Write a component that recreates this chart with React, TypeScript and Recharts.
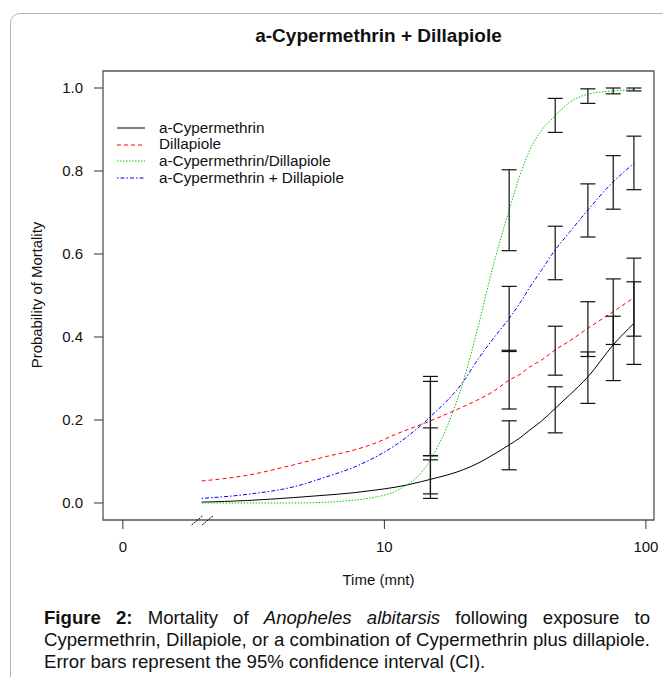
import {
  ComposedChart,
  ErrorBar,
  Line,
  ReferenceArea,
  ReferenceLine,
  Scatter,
  XAxis,
  YAxis,
} from 'recharts';

// fitted curves (time in minutes)
const times = [2, 3, 4.5, 6, 7.7, 9.2, 11, 15, 20, 23, 26, 30, 33, 36, 40, 45, 51, 60, 75, 90];
const cyper = [0.002, 0.006, 0.013, 0.019, 0.025, 0.031, 0.038, 0.057, 0.08, 0.097, 0.116, 0.14, 0.157, 0.176, 0.198, 0.228, 0.26, 0.304, 0.381, 0.433];
const dilla = [0.053, 0.067, 0.092, 0.112, 0.128, 0.144, 0.165, 0.198, 0.232, 0.25, 0.268, 0.296, 0.31, 0.328, 0.345, 0.369, 0.39, 0.421, 0.461, 0.495];
const ratio = [0, 0, 0, 0.002, 0.007, 0.014, 0.028, 0.104, 0.292, 0.433, 0.569, 0.706, 0.79, 0.851, 0.899, 0.933, 0.965, 0.985, 0.993, 0.996];
const combo = [0.011, 0.021, 0.039, 0.063, 0.087, 0.11, 0.139, 0.208, 0.292, 0.35, 0.395, 0.445, 0.482, 0.52, 0.562, 0.61, 0.652, 0.706, 0.774, 0.818];

// 95% CI per observation time
const ciTimes = [15, 30, 45, 60, 75, 90];
const cyperLo = [0.011, 0.08, 0.169, 0.24, 0.295, 0.334];
const cyperHi = [0.104, 0.198, 0.28, 0.364, 0.45, 0.533];
const dillaLo = [0.114, 0.2265, 0.308, 0.353, 0.382, 0.402];
const dillaHi = [0.293, 0.368, 0.426, 0.485, 0.54, 0.59];
const ratioLo = [0.022, 0.608, 0.893, 0.963, 0.986, 0.993];
const ratioHi = [0.181, 0.803, 0.975, 0.998, 1.0, 1.0];
const comboLo = [0.114, 0.365, 0.538, 0.641, 0.708, 0.755];
const comboHi = [0.305, 0.522, 0.667, 0.769, 0.837, 0.884];

const xTickLabels = ['0', '10', '100'];
const yTicks = [0, 0.2, 0.4, 0.6, 0.8, 1.0];

const series = [
  { key: 'cyper', name: 'a-Cypermethrin', color: '#000000', dash: undefined, values: cyper },
  { key: 'dilla', name: 'Dillapiole', color: '#ff0000', dash: '4 3', values: dilla },
  { key: 'ratio', name: 'a-Cypermethrin/Dillapiole', color: '#00cd00', dash: '1.5 1.5', values: ratio },
  { key: 'combo', name: 'a-Cypermethrin + Dillapiole', color: '#0000ff', dash: '1.5 2 4 2', values: combo },
];

const curveRows = times.map((t, i) => {
  const row: Record<string, number> = { u: Math.log10(t) };
  series.forEach((s) => (row[s.key] = s.values[i]));
  return row;
});

const ciPairs = [
  [cyperLo, cyperHi],
  [dillaLo, dillaHi],
  [ratioLo, ratioHi],
  [comboLo, comboHi],
];
const ciRows = ciPairs.flatMap(([lo, hi]) =>
  ciTimes.map((t, i) => {
    const mid = (lo[i] + hi[i]) / 2;
    return { u: Math.log10(t), mid, err: [mid - lo[i], hi[i] - mid] };
  }),
);

const X_DOMAIN: [number, number] = [-0.076, 2.031];
const Y_DOMAIN: [number, number] = [-0.041, 1.041];
const FONT = '"Liberation Sans", Arial, sans-serif';

function LegendBox() {
  return (
    <div
      style={{
        position: 'absolute',
        left: 117,
        top: 119.5,
        fontFamily: FONT,
        fontSize: 15.3,
        color: '#111',
        lineHeight: '16.7px',
      }}
    >
      {series.map((s) => (
        <div key={s.key} style={{ display: 'flex', alignItems: 'center', height: 16.7, whiteSpace: 'nowrap' }}>
          <svg width={28} height={6} style={{ marginRight: 14 }}>
            <line x1={0} y1={3} x2={28} y2={3} stroke={s.color} strokeWidth={1} strokeDasharray={s.dash} />
          </svg>
          <span>{s.name}</span>
        </div>
      ))}
    </div>
  );
}

export default function App() {
  return (
    <div style={{ position: 'absolute', left: 0, top: 0, width: 663, height: 677, overflow: 'hidden', background: '#fff' }}>
      <div
        style={{
          position: 'absolute',
          left: 10,
          top: 13,
          width: 700,
          height: 700,
          border: '1.5px solid #b4b4b4',
          borderRadius: 10,
        }}
      />
      <div
        style={{
          position: 'absolute',
          left: 103,
          width: 551,
          top: 25,
          textAlign: 'center',
          fontFamily: FONT,
          fontWeight: 'bold',
          fontSize: 19,
          color: '#111',
        }}
      >
        a-Cypermethrin + Dillapiole
      </div>
      <div
        style={{
          position: 'absolute',
          left: 37,
          top: 295,
          transform: 'translate(-50%, -50%) rotate(-90deg)',
          whiteSpace: 'nowrap',
          fontFamily: FONT,
          fontSize: 14.9,
          color: '#111',
        }}
      >
        Probability of Mortality
      </div>
      <div
        style={{
          position: 'absolute',
          left: 103,
          width: 551,
          top: 571,
          textAlign: 'center',
          fontFamily: FONT,
          fontSize: 15,
          color: '#111',
        }}
      >
        Time (mnt)
      </div>

      <div style={{ position: 'absolute', left: 0, top: 0 }}>
        <ComposedChart
          width={663}
          height={600}
          data={curveRows}
          margin={{ top: 71, right: 9, bottom: 0, left: 0 }}
        >
          <XAxis
            type="number"
            dataKey="u"
            domain={X_DOMAIN}
            allowDataOverflow
            ticks={[0, 1, 2]}
            tickFormatter={(v: number) => xTickLabels[Math.round(v)]}
            axisLine={false}
            tickLine={{ stroke: '#333' }}
            tickSize={9}
            tickMargin={12}
            height={80}
            tick={{ fill: '#111', fontSize: 15, fontFamily: FONT }}
          />
          <YAxis
            type="number"
            domain={Y_DOMAIN}
            allowDataOverflow
            ticks={yTicks}
            tickFormatter={(v: number) => v.toFixed(1)}
            axisLine={false}
            tickLine={{ stroke: '#333' }}
            tickSize={9}
            tickMargin={11}
            width={103}
            tick={{ fill: '#111', fontSize: 15, fontFamily: FONT }}
          />
          <ReferenceArea
            x1={X_DOMAIN[0]}
            x2={X_DOMAIN[1]}
            y1={Y_DOMAIN[0]}
            y2={Y_DOMAIN[1]}
            fill="none"
            stroke="#555"
            strokeWidth={1.3}
            ifOverflow="visible"
          />
          <ReferenceLine
            segment={[{ x: 0.263, y: -0.053 }, { x: 0.305, y: -0.031 }]}
            stroke="#000"
            strokeDasharray="2 1"
            ifOverflow="visible"
          />
          <ReferenceLine
            segment={[{ x: 0.303, y: -0.053 }, { x: 0.345, y: -0.031 }]}
            stroke="#000"
            strokeDasharray="2 1"
            ifOverflow="visible"
          />
          {series.map((s) => (
            <Line
              key={s.key}
              type="monotone"
              dataKey={s.key}
              name={s.name}
              stroke={s.color}
              strokeWidth={1}
              strokeDasharray={s.dash}
              dot={false}
              activeDot={false}
              isAnimationActive={false}
            />
          ))}
          <Scatter data={ciRows} dataKey="mid" shape={() => <g />} isAnimationActive={false} legendType="none">
            <ErrorBar dataKey="err" direction="y" width={7.5} stroke="#111" strokeWidth={1.2} isAnimationActive={false} />
          </Scatter>
        </ComposedChart>
      </div>
      <LegendBox />

      <div
        style={{
          position: 'absolute',
          left: 44,
          top: 606.5,
          width: 606,
          fontFamily: FONT,
          fontSize: 18.6,
          lineHeight: '22px',
          color: '#111',
        }}
      >
        <div style={{ textAlign: 'justify', textAlignLast: 'justify', whiteSpace: 'nowrap' }}>
          <b>Figure 2:</b> Mortality of <i>Anopheles albitarsis</i> following exposure to
        </div>
        <div style={{ textAlign: 'justify', textAlignLast: 'justify', whiteSpace: 'nowrap' }}>
          Cypermethrin, Dillapiole, or a combination of Cypermethrin plus dillapiole.
        </div>
        <div style={{ whiteSpace: 'nowrap' }}>Error bars represent the 95% confidence interval (CI).</div>
      </div>
    </div>
  );
}
